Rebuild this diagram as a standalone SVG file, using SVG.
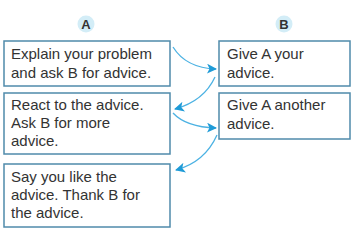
<svg xmlns="http://www.w3.org/2000/svg" width="358" height="234" viewBox="0 0 358 234">
<defs>
<style>
.box{fill:#fff;stroke:#4f8aab;stroke-width:1.5}
.t{font-family:"Liberation Sans",Arial,sans-serif;font-size:15px;fill:#333}
.h{font-family:"Liberation Sans",Arial,sans-serif;font-size:13px;font-weight:bold;fill:#333;text-anchor:middle}
.c{fill:#d3edf7}
.a{fill:none;stroke:#4cb2e3;stroke-width:1.3;marker-end:url(#ah)}
</style>
<marker id="ah" viewBox="0 0 10 10" refX="9" refY="5" markerWidth="10" markerHeight="10" markerUnits="userSpaceOnUse" orient="auto">
<path d="M0,0 L10,5 L0,10 L2.5,5 Z" fill="#1f9bd7"/>
</marker>
</defs>
<g id="headA"><circle class="c" cx="86" cy="24" r="8.5"/><text class="h" x="86" y="29">A</text></g>
<g id="headB"><circle class="c" cx="284" cy="24" r="8.5"/><text class="h" x="284" y="29">B</text></g>
<g id="a1"><rect class="box" x="4" y="41" width="166" height="45"/><text class="t" x="11" y="59">Explain your problem</text><text class="t" x="11" y="78">and ask B for advice.</text></g>
<g id="a2"><rect class="box" x="4" y="93" width="166" height="61"/><text class="t" x="11" y="110">React to the advice.</text><text class="t" x="11" y="128">Ask B for more</text><text class="t" x="11" y="146">advice.</text></g>
<g id="a3"><rect class="box" x="4" y="164" width="166" height="63"/><text class="t" x="11" y="182">Say you like the</text><text class="t" x="11" y="200">advice. Thank B for</text><text class="t" x="11" y="218">the advice.</text></g>
<g id="b1"><rect class="box" x="219" y="41" width="131" height="45"/><text class="t" x="227" y="59">Give A your</text><text class="t" x="227" y="78">advice.</text></g>
<g id="b2"><rect class="box" x="219" y="93" width="131" height="46"/><text class="t" x="227" y="110">Give A another</text><text class="t" x="227" y="129">advice.</text></g>
<g id="connectors">
<path class="a" d="M173,47 Q186,68 216,69"/>
<path class="a" d="M215,77 Q204,101 175,109"/>
<path class="a" d="M173,113 Q186,127 216,128"/>
<path class="a" d="M217,135 Q205,162 176,170"/>
</g>
</svg>
